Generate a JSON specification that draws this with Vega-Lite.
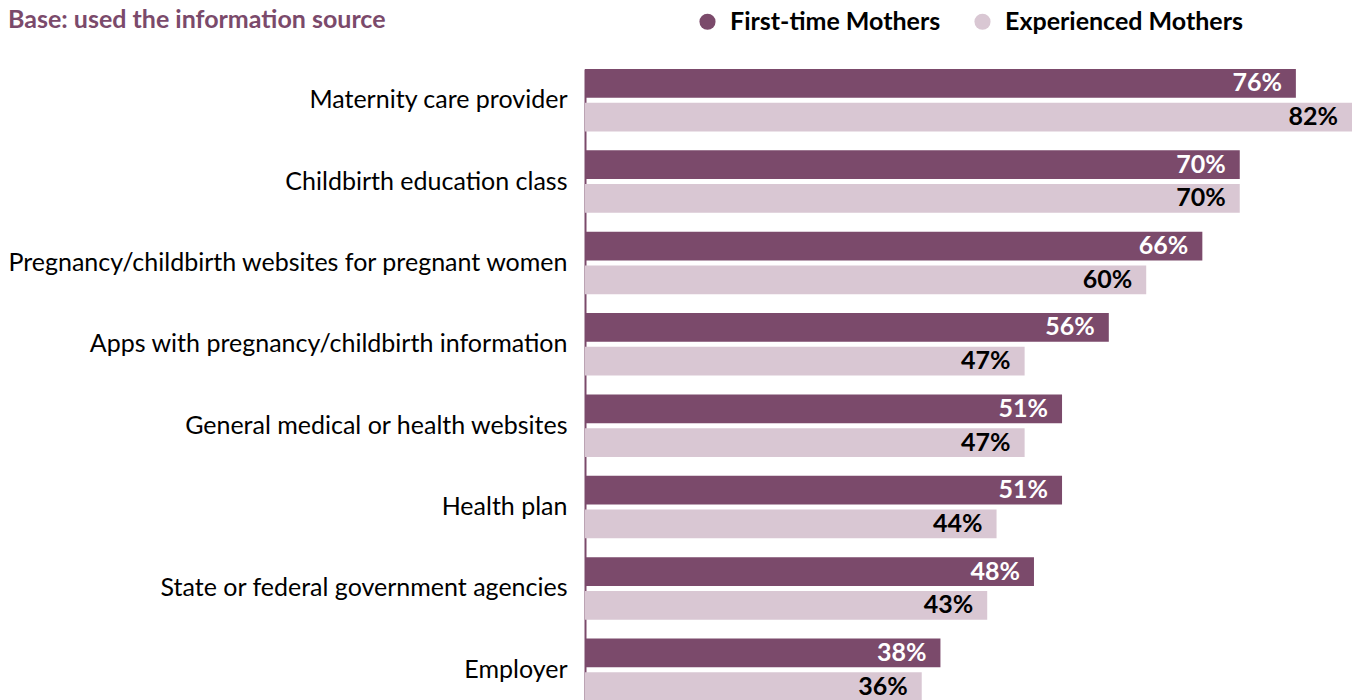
{
  "$schema": "https://vega.github.io/schema/vega-lite/v6.json",
  "autosize": "none",
  "width": 767,
  "height": 632,
  "padding": {"left": 585, "top": 69, "right": 1, "bottom": 0},
  "background": "white",
  "title": {
    "text": "Base: used the information source",
    "anchor": "start",
    "frame": "group",
    "dx": -577,
    "offset": -26,
    "dy": 18,
    "baseline": "alphabetic",
    "font": "Lato",
    "fontSize": 25,
    "fontWeight": "bold",
    "color": "#7B4A6B"
  },
  "config": {
    "view": {"stroke": null},
    "font": "Lato"
  },
  "data": {
    "values": [
      {"source": "Maternity care provider", "group": "First-time Mothers", "value": 0.76},
      {"source": "Maternity care provider", "group": "Experienced Mothers", "value": 0.82},
      {"source": "Childbirth education class", "group": "First-time Mothers", "value": 0.70},
      {"source": "Childbirth education class", "group": "Experienced Mothers", "value": 0.70},
      {"source": "Pregnancy/childbirth websites for pregnant women", "group": "First-time Mothers", "value": 0.66},
      {"source": "Pregnancy/childbirth websites for pregnant women", "group": "Experienced Mothers", "value": 0.60},
      {"source": "Apps with pregnancy/childbirth information", "group": "First-time Mothers", "value": 0.56},
      {"source": "Apps with pregnancy/childbirth information", "group": "Experienced Mothers", "value": 0.47},
      {"source": "General medical or health websites", "group": "First-time Mothers", "value": 0.51},
      {"source": "General medical or health websites", "group": "Experienced Mothers", "value": 0.47},
      {"source": "Health plan", "group": "First-time Mothers", "value": 0.51},
      {"source": "Health plan", "group": "Experienced Mothers", "value": 0.44},
      {"source": "State or federal government agencies", "group": "First-time Mothers", "value": 0.48},
      {"source": "State or federal government agencies", "group": "Experienced Mothers", "value": 0.43},
      {"source": "Employer", "group": "First-time Mothers", "value": 0.38},
      {"source": "Employer", "group": "Experienced Mothers", "value": 0.36}
    ]
  },
  "encoding": {
    "y": {
      "field": "source",
      "type": "nominal",
      "sort": null,
      "scale": {"paddingInner": 0.233, "paddingOuter": 0},
      "axis": {
        "title": null,
        "ticks": false,
        "domainColor": "#7B4A6B",
        "domainWidth": 2,
        "labelFont": "Lato",
        "labelFontSize": 25,
        "labelColor": "#000000",
        "labelPadding": 18,
        "labelLimit": 600
      }
    },
    "yOffset": {
      "field": "group",
      "type": "nominal",
      "scale": {"domain": ["First-time Mothers", "Experienced Mothers"], "paddingInner": 0.15, "paddingOuter": 0}
    },
    "x": {
      "field": "value",
      "type": "quantitative",
      "scale": {"domain": [0, 0.82], "nice": false},
      "axis": null
    }
  },
  "layer": [
    {
      "mark": {"type": "bar"},
      "encoding": {
        "color": {
          "field": "group",
          "type": "nominal",
          "scale": {"domain": ["First-time Mothers", "Experienced Mothers"], "range": ["#7B4A6B", "#D9C7D3"]},
          "legend": {
            "title": null,
            "orient": "none",
            "legendX": 110,
            "legendY": -60,
            "direction": "horizontal",
            "symbolType": "circle",
            "symbolSize": 260,
            "symbolStrokeWidth": 0,
            "labelFont": "Lato",
            "labelFontSize": 25,
            "labelFontWeight": "bold",
            "labelColor": "#000000",
            "labelOffset": 10,
            "columnPadding": 29,
            "labelLimit": 400
          }
        }
      }
    },
    {
      "mark": {"type": "text", "align": "right", "dx": -14, "font": "Lato", "fontSize": 25, "fontWeight": "bold", "baseline": "middle"},
      "encoding": {
        "text": {"field": "value", "type": "quantitative", "format": ".0%"},
        "color": {
          "condition": {"test": "datum.group === 'First-time Mothers'", "value": "#FFFFFF"},
          "value": "#000000"
        }
      }
    }
  ]
}
